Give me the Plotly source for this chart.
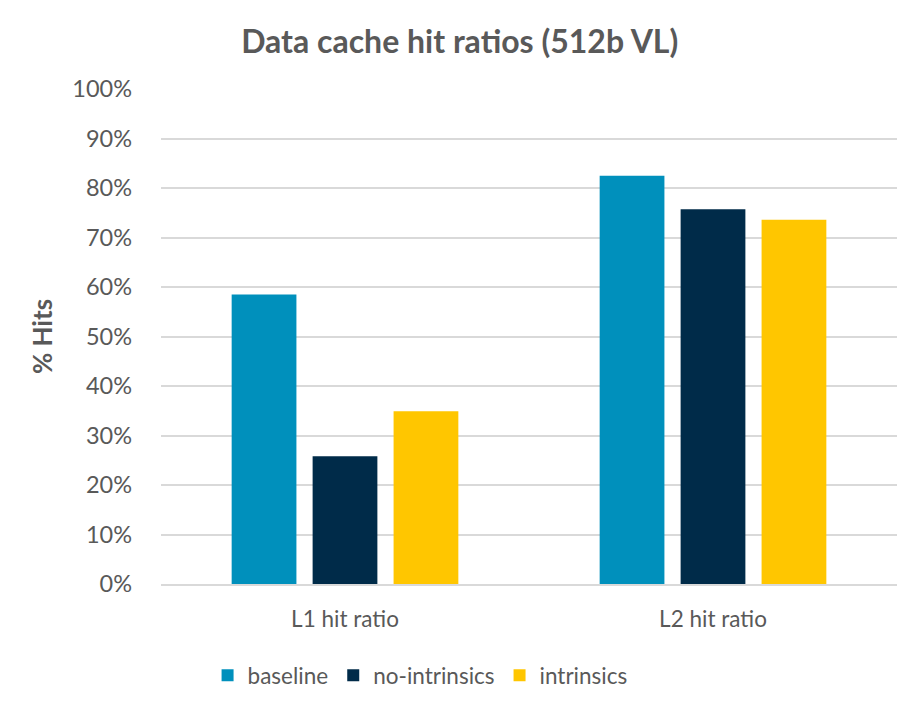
import plotly.graph_objects as go

categories = ["L1 hit ratio", "L2 hit ratio"]
series_names = ["baseline", "no-intrinsics", "intrinsics"]
baseline = [0.585, 0.825]
no_intrinsics = [0.258, 0.757]
intrinsics = [0.349, 0.736]
colors = ["#0090BC", "#002B49", "#FFC600"]
y_ticks = [i / 10 for i in range(11)]
y_tick_labels = [f"{i*10}%" for i in range(11)]

FONT = "Lato, 'Open Sans', sans-serif"
GRAY = "#595959"

fig = go.Figure()
for name, vals, col in zip(series_names, [baseline, no_intrinsics, intrinsics], colors):
    fig.add_trace(go.Bar(name=name, x=categories, y=vals, marker=dict(color=col, line=dict(width=0))))

fig.update_layout(
    width=920, height=712,
    barmode="group", bargap=0.34, bargroupgap=0.2,
    plot_bgcolor="white", paper_bgcolor="white",
    margin=dict(l=153, r=31, t=81, b=136, autoexpand=False),
    title=dict(text="<b>Data cache hit ratios (512b VL)</b>", x=0.491, xanchor="center",
               y=1 - 34 / 712, yref="container", yanchor="middle",
               font=dict(family=FONT, size=32, color=GRAY)),
    font=dict(family=FONT, size=20, color=GRAY),
    legend=dict(orientation="h", x=0.352, xanchor="center", y=-0.185, yanchor="middle",
                font=dict(family=FONT, size=22.5, color=GRAY), traceorder="normal"),
    yaxis=dict(range=[0, 1], tickvals=y_ticks, ticktext=y_tick_labels,
               showgrid=True, gridcolor="#D9D9D9", gridwidth=1.5,
               zeroline=False, showline=False, ticks="", ticklen=0,
               ticklabelstandoff=28,
               tickfont=dict(family=FONT, size=23.5, color=GRAY),
               title=dict(text="<b>% Hits</b>", standoff=12,
                          font=dict(family=FONT, size=26, color=GRAY))),
    xaxis=dict(showline=True, linecolor="#D9D9D9", linewidth=1.5, ticks="",
               ticklabelstandoff=14,
               tickfont=dict(family=FONT, size=22.5, color=GRAY)),
    showlegend=True,
)

fig.write_html("out.html")
